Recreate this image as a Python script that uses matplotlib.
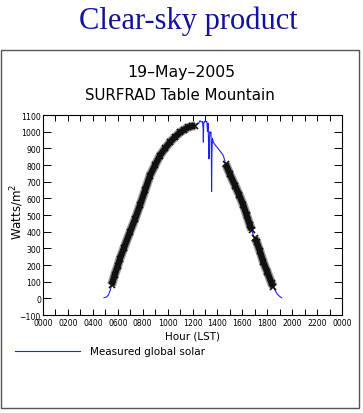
import numpy as np
import matplotlib.pyplot as plt
from matplotlib.patches import Rectangle

# --- data ---
# measured global solar (hour LST, W/m^2)
hours = [4.90, 5.10, 5.25, 5.40, 5.51, 5.75, 6.00, 6.18, 6.50, 6.98, 7.40, 7.78,
         8.20, 8.59, 9.00, 9.39, 9.80, 10.19, 10.60, 11.00, 11.33, 11.66, 11.95,
         12.20, 12.40, 12.50, 12.60, 12.70, 12.80, 12.85, 12.87, 12.90, 12.95,
         13.00, 13.05, 13.10, 13.15, 13.20, 13.25, 13.30, 13.32, 13.36, 13.40,
         13.45, 13.48, 13.51, 13.53, 13.56, 13.60, 13.67, 13.85, 14.07, 14.30,
         14.47, 14.66, 15.00, 15.41, 15.75, 16.08, 16.35, 16.61, 16.75, 16.88,
         17.00, 17.15, 17.40, 17.68, 18.00, 18.35, 18.50, 18.62, 18.80, 19.02, 19.15]
global_solar = [4, 8, 20, 50, 80, 140, 195, 239, 303, 398, 478, 558,
                650, 737, 800, 857, 900, 937, 968, 996, 1012, 1026, 1033,
                1036, 1045, 1052, 1066, 1058, 1062, 1020, 937, 1050, 1062,
                1058, 1064, 1060, 1062, 1000, 1050, 900, 837, 960, 1000,
                990, 996, 900, 641, 880, 960, 937, 917, 897, 875,
                857, 807, 745, 677, 620, 558, 498, 438, 410, 378,
                360, 339, 285, 219, 158, 90, 70, 50, 25, 10, 4]

# periods flagged as clear sky (black crosses)
clear_from = [5.50, 14.60, 16.95]
clear_to = [12.20, 16.80, 18.50]

tick_hours = list(range(0, 25, 2))
tick_labels = ['0000', '0200', '0400', '0600', '0800', '1000', '1200',
               '1400', '1600', '1800', '2000', '2200', '0000']

t = np.array(hours)
v = np.array(global_solar, dtype=float)
flag = np.zeros(len(t), dtype=bool)
for a, b in zip(clear_from, clear_to):
    flag |= (t >= a) & (t <= b)
v_clear = np.where(flag, v, np.nan)

fig = plt.figure(figsize=(3.63, 4.14), dpi=100)

# title above the box
fig.text(0.52, 0.948, 'Clear-sky product', ha='center', va='center',
         family='Liberation Serif', fontsize=22, color='#12129c')

# outer frame
fig.patches.append(Rectangle((0.004, 0.012), 0.984, 0.866, transform=fig.transFigure,
                             fill=False, edgecolor='#555555', linewidth=1.0))

fig.text(0.499, 0.824, '19\u2013May\u20132005', ha='center', va='center', fontsize=11.3)
fig.text(0.497, 0.770, 'SURFRAD Table Mountain', ha='center', va='center', fontsize=10.8)

ax = fig.add_axes([0.1185, 0.2367, 0.8237, 0.4831])
ax.plot(t, v, color='#2020ff', linewidth=0.8, label='Measured global solar')
# clear-sky points: dense crosses drawn as a fuzzy black band
ax.plot(t, v_clear, color='#9a9a9a', linewidth=6.5, solid_capstyle='butt')
ax.plot(t, v_clear, color='#111111', linewidth=4.5, solid_capstyle='butt')
ax.plot(t, v_clear, color='#111111', linestyle='none', marker='x', markersize=4.5, mew=1.2)

ax.set_xlim(0, 24)
ax.set_ylim(-100, 1100)
ax.set_xticks(tick_hours)
ax.set_xticklabels(tick_labels)
ax.set_xticks(range(1, 24, 2), minor=True)
ax.set_yticks(range(-100, 1101, 100))
ax.tick_params(axis='x', which='both', direction='in', top=True, length=4.5,
               width=0.7, labelsize=5.6, pad=2.5)
ax.tick_params(axis='y', direction='in', right=True, length=5.5, width=0.7,
               labelsize=5.6, pad=1.5)
for s in ax.spines.values():
    s.set_linewidth(0.8)

ax.set_xlabel('Hour (LST)', fontsize=7.5, labelpad=2)
ax.set_ylabel('Watts/m$^2$', fontsize=8.5)
ax.yaxis.set_label_coords(-0.058, 0.52)

# legend line below the plot
fig.lines.append(plt.Line2D([0.041, 0.22], [0.150, 0.150], transform=fig.transFigure,
                            color='#2020ff', linewidth=0.8))
fig.text(0.248, 0.150, 'Measured global solar', ha='left', va='center', fontsize=7.5)

plt.savefig('out.png', dpi=100)
